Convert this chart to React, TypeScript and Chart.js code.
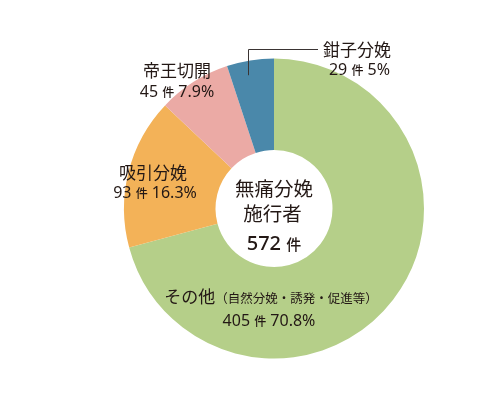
import React, { useEffect, useRef } from 'react';
import { Chart, registerables } from 'chart.js';

Chart.register(...registerables);

const categories = ['その他', '吸引分娩', '帝王切開', '鉗子分娩'];
const categoryNotes = ['（自然分娩・誘発・促進等）', '', '', ''];
const counts = [405, 93, 45, 29];
const percents = ['70.8%', '16.3%', '7.9%', '5%'];
const colors = ['#B5CF89', '#F3B258', '#EBAAA5', '#4A88AA'];
const centerTitle = ['無痛分娩', '施行者'];
const totalCount = 572;
const unit = '件';

// label anchors relative to doughnut centre (title centre/baseline, number centre/baseline)
const labelLayout = [
  { tx: -3, ty: 94.5, nx: -5, ny: 117.5 },
  { tx: -121, ty: -30, nx: -119, ny: -10.5 },
  { tx: -97, ty: -132, nx: -97, ny: -111.5 },
  { tx: 83, ty: -153, nx: 85.5, ny: -133.5 },
];

const TEXT = '#231815';
const CJK = '"Noto Sans CJK JP", "Noto Sans", sans-serif';
const NUM = '"Noto Sans", sans-serif';

type Run = [string, string];

function drawRuns(ctx: CanvasRenderingContext2D, runs: Run[], cx: number, baseline: number) {
  let total = 0;
  const widths = runs.map(([t, f]) => {
    ctx.font = f;
    const w = ctx.measureText(t).width;
    total += w;
    return w;
  });
  let x = cx - total / 2;
  ctx.textAlign = 'left';
  ctx.textBaseline = 'alphabetic';
  runs.forEach(([t, f], i) => {
    ctx.font = f;
    ctx.fillText(t, x, baseline);
    x += widths[i];
  });
}

const labelPlugin = {
  id: 'labelPlugin',
  afterDraw(chart: any) {
    const ctx: CanvasRenderingContext2D = chart.ctx;
    const meta = chart.getDatasetMeta(0);
    const arc0 = meta.data[0];
    const cx = arc0.x;
    const cy = arc0.y;
    ctx.save();
    ctx.fillStyle = TEXT;
    categories.forEach((cat, i) => {
      const L = labelLayout[i];
      const titleRuns: Run[] = [[cat, `400 17px ${CJK}`]];
      if (categoryNotes[i]) titleRuns.push([categoryNotes[i], `400 12.5px ${CJK}`]);
      drawRuns(ctx, titleRuns, cx + L.tx, cy + L.ty);
      drawRuns(
        ctx,
        [
          [String(counts[i]) + ' ', `400 16px ${NUM}`],
          [unit, `500 12px ${CJK}`],
          [' ' + percents[i], `400 16px ${NUM}`],
        ],
        cx + L.nx,
        cy + L.ny
      );
    });
    // leader line for smallest slice
    const a = meta.data[3];
    const ang = a.startAngle + 0.4 * (a.endAngle - a.startAngle);
    const r = a.outerRadius * 0.905;
    const px = Math.round(cx + r * Math.cos(ang)) + 0.5;
    const py = cy + r * Math.sin(ang);
    const topY = Math.round(cy - 159.5) + 0.5;
    ctx.strokeStyle = '#3a3433';
    ctx.lineWidth = 1;
    ctx.beginPath();
    ctx.moveTo(px, py);
    ctx.lineTo(px, topY);
    ctx.lineTo(cx + 44, topY);
    ctx.stroke();
    // centre text
    drawRuns(ctx, [[centerTitle[0], `400 19.5px ${CJK}`]], cx, cy - 12.5);
    drawRuns(ctx, [[centerTitle[1], `400 19.5px ${CJK}`]], cx - 1.5, cy + 12.5);
    drawRuns(
      ctx,
      [
        [String(totalCount) + ' ', `500 20px ${NUM}`],
        [unit, `500 15px ${CJK}`],
      ],
      cx,
      cy + 41.5
    );
    ctx.restore();
  },
};

export default function App() {
  const ref = useRef<HTMLCanvasElement | null>(null);
  useEffect(() => {
    if (!ref.current) return;
    const chart = new Chart(ref.current, {
      type: 'doughnut',
      data: {
        labels: categories,
        datasets: [
          {
            data: counts,
            backgroundColor: colors,
            borderWidth: 0,
          },
        ],
      },
      options: {
        responsive: false,
        animation: false,
        devicePixelRatio: 1,
        cutout: '39%',
        layout: { padding: { top: 58, bottom: 39, left: 124, right: 75 } },
        plugins: {
          legend: { display: false },
          tooltip: { enabled: false },
        },
      },
      plugins: [labelPlugin],
    });
    return () => chart.destroy();
  }, []);
  return (
    <div style={{ position: 'fixed', left: 0, top: 0, width: 499, height: 398, background: '#fff' }}>
      <canvas ref={ref} width={499} height={398} style={{ width: 499, height: 398, display: 'block' }} />
    </div>
  );
}
